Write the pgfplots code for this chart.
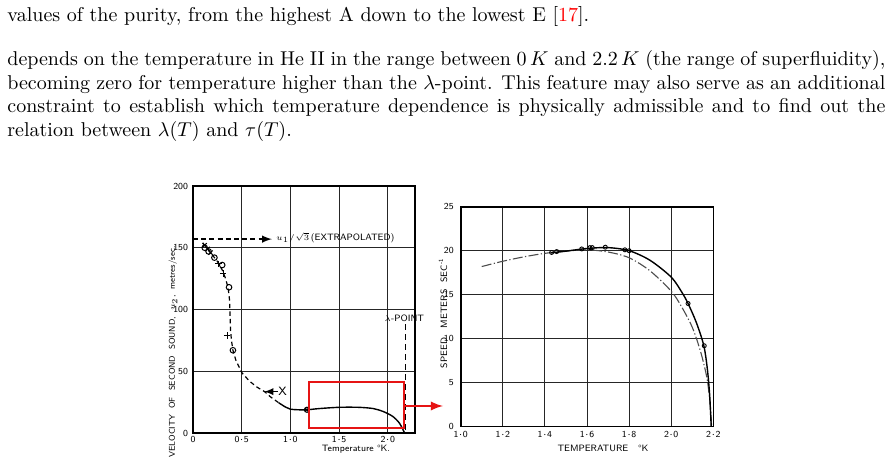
\documentclass[border=0pt]{standalone}
\usepackage{pgfplots}
\pgfplotsset{compat=1.18}
\usepackage{xcolor}
\usepackage{graphicx}
\definecolor{refred}{RGB}{230,20,20}
\newcommand{\tk}{\sffamily\fontsize{4.6}{5}\selectfont}
\newcommand{\sm}[1]{\scalebox{0.8}{$#1$}}
\begin{document}
\begin{tikzpicture}
\useasboundingbox (0pt,0pt) rectangle (445pt,-232pt);
% ---------------- text ----------------
\node[anchor=base west,inner sep=0pt] at (3.5pt,-11pt) {values of the purity, from the highest A down to the lowest E [{\color{red}17}].};
\node[anchor=base west,inner sep=0pt] at (3.5pt,-33pt) {\makebox[439pt][s]{depends on the temperature in He II in the range between $0\,K$ and $2.2\,K$ (the range of superfluidity),}};
\node[anchor=base west,inner sep=0pt] at (3.5pt,-45pt) {\makebox[439pt][s]{becoming zero for temperature higher than the $\lambda$-point. This feature may also serve as an additional}};
\node[anchor=base west,inner sep=0pt] at (3.5pt,-56.5pt) {\makebox[439pt][s]{constraint to establish which temperature dependence is physically admissible and to find out the}};
\node[anchor=base west,inner sep=0pt] at (3.5pt,-68.5pt) {relation between $\lambda(T)$ and $\tau(T)$.};
% ---------------- left chart ----------------
\begin{axis}[at={(96.5pt,-216.5pt)}, anchor=south west, scale only axis,
  width=111pt, height=123.5pt,
  xmin=0, xmax=2.28, ymin=0, ymax=200,
  xtick={0,0.5,1,1.5,2}, xticklabels={0,0$\cdot$5,1$\cdot$0,1$\cdot$5,2$\cdot$0},
  ytick={0,50,100,150,200}, yticklabels={0,50,100,150,200},
  grid=major, grid style={black!85, line width=0.5pt},
  axis line style={black, line width=0.6pt},
  major tick length=0pt,
  tick label style={font=\tk},
  xticklabel style={yshift=1.8pt},
  yticklabel style={xshift=1pt},
  clip=false]
\addplot[black, line width=0.6pt, dash pattern=on 2.2pt off 1.6pt] coordinates {
 (0.10,154) (0.15,149) (0.20,144) (0.25,139) (0.30,132) (0.33,126) (0.36,118)
 (0.375,108) (0.38,96) (0.385,84) (0.395,75) (0.41,67) (0.44,59) (0.47,54)
 (0.50,49) (0.58,42) (0.66,37) (0.735,33.5) (0.80,29) (0.88,24.5)};
\addplot[black, line width=0.7pt, smooth] coordinates {
 (0.88,24.5) (0.95,21) (1.0,19.3) (1.08,18.8) (1.17,18.8) (1.3,19.8) (1.5,20.8)
 (1.7,20.8) (1.85,19.8) (1.95,17.5) (2.05,13.5) (2.12,8) (2.17,0.5)};
\addplot[only marks, mark=o, mark size=1.4pt, mark options={line width=0.5pt}] coordinates {
 (0.12,150) (0.16,147) (0.22,142) (0.30,136) (0.37,118) (0.41,67)};
\addplot[only marks, mark=x, mark size=1.5pt, mark options={line width=0.55pt}] coordinates {
 (0.12,152) (0.15,149) (0.18,146)};
\addplot[only marks, mark=+, mark size=1.6pt, mark options={line width=0.5pt}] coordinates {
 (0.26,137) (0.31,129) (0.35,79)};
\addplot[only marks, mark=otimes, mark size=1.3pt, mark options={line width=0.5pt}] coordinates {
 (1.17,18.8)};
% annotations
\draw[black, line width=0.7pt, dash pattern=on 2.5pt off 1.6pt, -latex] (axis cs:0,157) -- (axis cs:0.81,157);
\node[anchor=west, font=\tk, inner sep=1pt] at (axis cs:0.83,158) {\sm{u_1/\sqrt{3}}\,(EXTRAPOLATED)};
\draw[black, line width=0.6pt, -latex] (axis cs:0.87,33.5) -- (axis cs:0.73,33.5);
\node[font=\sffamily\fontsize{6}{6}\selectfont] at (axis cs:0.92,33.5) {X};
\node[font=\tk] at (axis cs:2.17,93) {\sm{\lambda}-POINT};
\draw[black, line width=0.5pt, dash pattern=on 3pt off 2pt] (axis cs:2.18,88) -- (axis cs:2.18,0);
\end{axis}
\node[font=\tk] at (178pt,-224.5pt) {Temperature \textdegree K.};
\node[font=\sffamily\fontsize{4.2}{5}\selectfont, rotate=90] at (86.5pt,-176pt) {VELOCITY\ \ OF\ \ SECOND\ \ SOUND,\ \ \sm{u_2},\ \ metres/sec.};
% ---------------- right chart ----------------
\begin{axis}[at={(230.35pt,-213.35pt)}, anchor=south west, scale only axis,
  width=126.3pt, height=110pt,
  xmin=1, xmax=2.2, ymin=0, ymax=25,
  xtick={1,1.2,1.4,1.6,1.8,2.0,2.2},
  xticklabels={1$\cdot$0,1$\cdot$2,1$\cdot$4,1$\cdot$6,1$\cdot$8,2$\cdot$0,2$\cdot$2},
  ytick={0,5,10,15,20,25}, yticklabels={0,5,10,15,20,25},
  grid=major, grid style={black!85, line width=0.5pt},
  axis line style={black, line width=0.8pt},
  major tick length=0pt,
  tick label style={font=\tk},
  xticklabel style={yshift=1pt},
  clip=false]
\addplot[black!70, line width=0.55pt, dash pattern=on 5pt off 1.2pt on 0.6pt off 1.2pt, smooth] coordinates {
 (1.1,18.2) (1.2,18.8) (1.3,19.3) (1.4,19.7) (1.5,19.95) (1.6,20.1) (1.7,19.85)
 (1.8,19.2) (1.9,17.7) (2.0,15.4) (2.05,13.6) (2.1,11.3) (2.14,8.5) (2.17,5.5) (2.185,2.5) (2.192,0)};
\addplot[black, line width=0.7pt, smooth] coordinates {
 (1.43,19.75) (1.5,19.95) (1.6,20.25) (1.7,20.35) (1.8,20.0) (1.9,18.9)
 (2.0,17.0) (2.05,15.3) (2.08,14.0) (2.12,11.8) (2.155,9.2) (2.172,6.5) (2.183,3.5) (2.19,0)};
\addplot[only marks, mark=o, mark size=1.0pt, mark options={line width=0.45pt}] coordinates {
 (1.432,19.8) (1.456,19.9) (1.575,20.2) (1.614,20.35) (1.625,20.35) (1.687,20.4)
 (1.78,20.1) (1.80,20.0) (2.08,14.0) (2.157,9.2)};
\end{axis}
\node[font=\tk] at (301.5pt,-224pt) {TEMPERATURE\ \ \ \textdegree K};
\node[font=\tk, rotate=90] at (221.5pt,-156.5pt) {SPEED\ \ \ METERS\ \ SEC\textsuperscript{\kern0.5pt-1}};
% ---------------- red highlight ----------------
\draw[refred, line width=1.1pt] (154.5pt,-191pt) rectangle (202pt,-214pt);
\draw[refred, line width=1.1pt, -latex] (202pt,-203pt) -- (221.5pt,-203pt);
\end{tikzpicture}
\end{document}
